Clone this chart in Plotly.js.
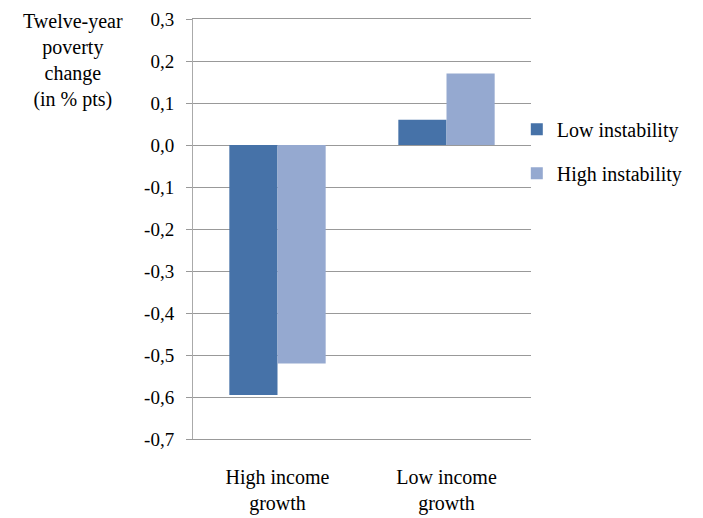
<!DOCTYPE html>
<html>
<head>
<meta charset="utf-8">
<script src="https://cdn.plot.ly/plotly-3.0.1.min.js"></script>
<style>html,body{margin:0;padding:0;background:#fff;}#chart{width:703px;height:518px;}</style>
</head>
<body>
<div id="chart"></div>
<script>
var categories = ["High income<br>growth", "Low income<br>growth"];
var seriesNames = ["Low instability", "High instability"];
var lowInstability = [-0.595, 0.06];
var highInstability = [-0.52, 0.17];
var tickVals = [0.3, 0.2, 0.1, 0.0, -0.1, -0.2, -0.3, -0.4, -0.5, -0.6, -0.7];
var tickText = ["0,3", "0,2", "0,1", "0,0", "-0,1", "-0,2", "-0,3", "-0,4", "-0,5", "-0,6", "-0,7"];
var yTitle = "Twelve-year<br>poverty<br>change<br>(in % pts)";

var serif = "'Liberation Serif', 'Times New Roman', Times, 'DejaVu Serif'";
var traces = [
  {type: "bar", name: seriesNames[0], x: categories, y: lowInstability,
   marker: {color: "#4672A8"}, legendgroup: "a"},
  {type: "bar", name: seriesNames[1], x: categories, y: highInstability,
   marker: {color: "#95A9D0"}, legendgroup: "b"}
];
var layout = {
  width: 703, height: 518,
  margin: {l: 193, r: 172, t: 19, b: 79},
  paper_bgcolor: "#fff", plot_bgcolor: "#fff",
  barmode: "group", bargap: 0.43, bargroupgap: 0,
  font: {family: serif, color: "#000", size: 20},
  showlegend: true,
  legend: {x: 0.958, xanchor: "left", y: 0.685, yanchor: "middle",
           traceorder: "grouped", tracegroupgap: 15,
           font: {family: serif, size: 20, color: "#000"}, bgcolor: "rgba(0,0,0,0)"},
  xaxis: {type: "category", showgrid: false, zeroline: false,
          showline: true, mirror: true, linecolor: "#999", linewidth: 1,
          ticks: "", ticklabelstandoff: 20,
          tickfont: {family: serif, size: 20, color: "#000"}},
  yaxis: {range: [-0.7, 0.3], tickvals: tickVals, ticktext: tickText,
          showgrid: true, gridcolor: "#999", gridwidth: 1,
          zeroline: true, zerolinecolor: "#999", zerolinewidth: 1,
          showline: true, linecolor: "#aaa", linewidth: 1,
          ticks: "outside", ticklen: 6, tickcolor: "#999",
          ticklabelstandoff: 8,
          tickfont: {family: serif, size: 19, color: "#000"}},
  annotations: [{
    text: yTitle, xref: "paper", yref: "paper",
    x: -0.355, xanchor: "center", y: 1.026, yanchor: "top",
    showarrow: false, align: "center",
    font: {family: serif, size: 20, color: "#000"}
  }]
};
Plotly.newPlot("chart", traces, layout, {displayModeBar: false, staticPlot: true});
</script>
</body>
</html>
